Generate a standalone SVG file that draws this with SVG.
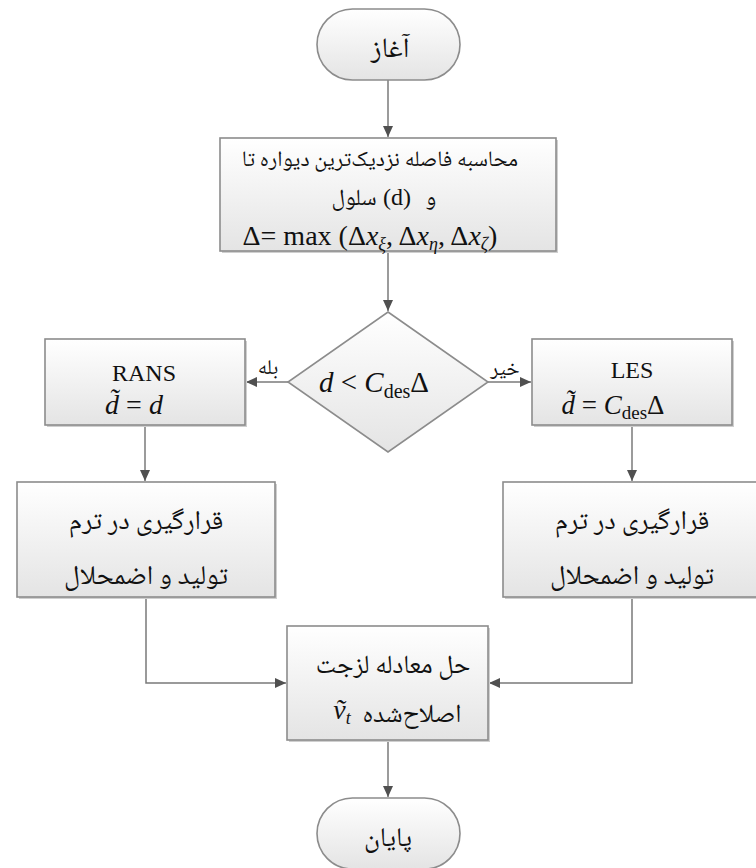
<svg xmlns="http://www.w3.org/2000/svg" width="756" height="868" viewBox="0 0 756 868">
<defs>
<linearGradient id="g" x1="0" y1="0" x2="0" y2="1">
<stop offset="0" stop-color="#ffffff"/>
<stop offset="1" stop-color="#e4e4e4"/>
</linearGradient>
<marker id="ah" markerUnits="userSpaceOnUse" markerWidth="12" markerHeight="12" viewBox="0 0 12 12" refX="11" refY="6" orient="auto">
<path d="M0,1 L11,6 L0,11 Z" fill="#505050"/>
</marker>
</defs>
<style>
.box{fill:url(#g);stroke:#8c8c8c;stroke-width:1.6}
.sh{fill:#cfcfcf}
.fa{font-family:"Noto Naskh Arabic","Noto Sans Arabic","DejaVu Sans",sans-serif;font-size:21px;fill:#111;text-anchor:middle}
.fb{font-size:27px}
.mt{font-family:"Liberation Serif","DejaVu Serif",serif;font-size:24px;fill:#111;text-anchor:middle}
.it{font-style:italic}
.lbl{font-family:"Noto Naskh Arabic","Noto Sans Arabic","DejaVu Sans",sans-serif;font-size:21px;fill:#111;text-anchor:middle}
.cn{fill:none;stroke:#7a7a7a;stroke-width:1.5}
</style>

<g id="connectors">
<path class="cn" d="M388 80 V137" marker-end="url(#ah)"/>
<path class="cn" d="M388 251 V311" marker-end="url(#ah)"/>
<path class="cn" d="M288 382 H246" marker-end="url(#ah)"/>
<path class="cn" d="M488 382 H531" marker-end="url(#ah)"/>
<path class="cn" d="M145 425 V481" marker-end="url(#ah)"/>
<path class="cn" d="M632 425 V481" marker-end="url(#ah)"/>
<path class="cn" d="M146 597 V683 H286" marker-end="url(#ah)"/>
<path class="cn" d="M632 597 V683 H489" marker-end="url(#ah)"/>
<path class="cn" d="M388 740 V797" marker-end="url(#ah)"/>
<text class="lbl" x="268" y="374">بله</text>
<text class="lbl" x="505" y="375">خیر</text>
</g>

<g id="start">
<rect class="box" x="317" y="9" width="143" height="71" rx="35.5" ry="35.5"/>
<text class="fa" x="390" y="57" style="font-size:28px">آغاز</text>
</g>

<g id="compute">
<rect class="sh" x="222" y="140" width="336" height="113"/>
<rect class="box" x="220" y="138" width="336" height="113"/>
<text class="fa" x="380" y="166" style="font-size:22px">محاسبه فاصله نزدیک‌ترین دیواره تا</text>
<text class="fa" x="354" y="205" style="font-size:23px">سلول</text>
<text class="mt" x="397" y="205">(d)</text>
<text class="fa" x="431" y="205" style="font-size:23px">و</text>
<text class="mt" x="370" y="245" style="font-size:28px">Δ= max (Δ<tspan class="it">x</tspan><tspan class="it" font-size="18" dy="5">ξ</tspan><tspan dy="-5">, Δ</tspan><tspan class="it">x</tspan><tspan class="it" font-size="18" dy="5">η</tspan><tspan dy="-5">, Δ</tspan><tspan class="it">x</tspan><tspan class="it" font-size="18" dy="5">ζ</tspan><tspan dy="-5">)</tspan></text>
</g>

<g id="decision">
<polygon class="box" points="388,312 488,382 388,452 288,382"/>
<text class="mt" x="374" y="392" style="font-size:29px"><tspan class="it">d</tspan> &lt; <tspan class="it">C</tspan><tspan font-size="20" dy="6">des</tspan><tspan dy="-6">Δ</tspan></text>
</g>

<g id="rans">
<rect class="sh" x="47" y="341" width="200" height="86"/>
<rect class="box" x="45" y="339" width="200" height="86"/>
<text class="mt" x="144" y="381">RANS</text>
<text class="mt" x="134" y="414" style="font-size:28px"><tspan class="it">d̃</tspan> = <tspan class="it">d</tspan></text>
</g>

<g id="les">
<rect class="sh" x="534" y="341" width="200" height="86"/>
<rect class="box" x="532" y="339" width="200" height="86"/>
<text class="mt" x="632" y="378">LES</text>
<text class="mt" x="613" y="414" style="font-size:27px"><tspan class="it">d̃</tspan> = <tspan class="it">C</tspan><tspan font-size="19" dy="5">des</tspan><tspan dy="-5">Δ</tspan></text>
</g>

<g id="place-left">
<rect class="sh" x="19" y="484" width="258" height="115"/>
<rect class="box" x="17" y="482" width="258" height="115"/>
<text class="fa fb" x="146" y="529">قرارگیری در ترم</text>
<text class="fa fb" x="146" y="584">تولید و اضمحلال</text>
</g>

<g id="place-right">
<rect class="sh" x="505" y="484" width="258" height="115"/>
<rect class="box" x="503" y="482" width="258" height="115"/>
<text class="fa fb" x="632" y="529">قرارگیری در ترم</text>
<text class="fa fb" x="632" y="584">تولید و اضمحلال</text>
</g>

<g id="solve">
<rect class="sh" x="289" y="628" width="201" height="114"/>
<rect class="box" x="287" y="626" width="201" height="114"/>
<text class="fa" x="393" y="673" style="font-size:26px">حل معادله لزجت</text>
<text class="fa" x="412" y="722" style="font-size:26px">اصلاح‌شده</text>
<text class="mt it" x="342" y="719" style="font-size:28px">ṽ<tspan font-size="18" dy="5">t</tspan></text>
</g>

<g id="end">
<rect class="box" x="317" y="798" width="143" height="71" rx="35.5" ry="35.5"/>
<text class="fa" x="388" y="846" style="font-size:27px">پایان</text>
</g>
</svg>
